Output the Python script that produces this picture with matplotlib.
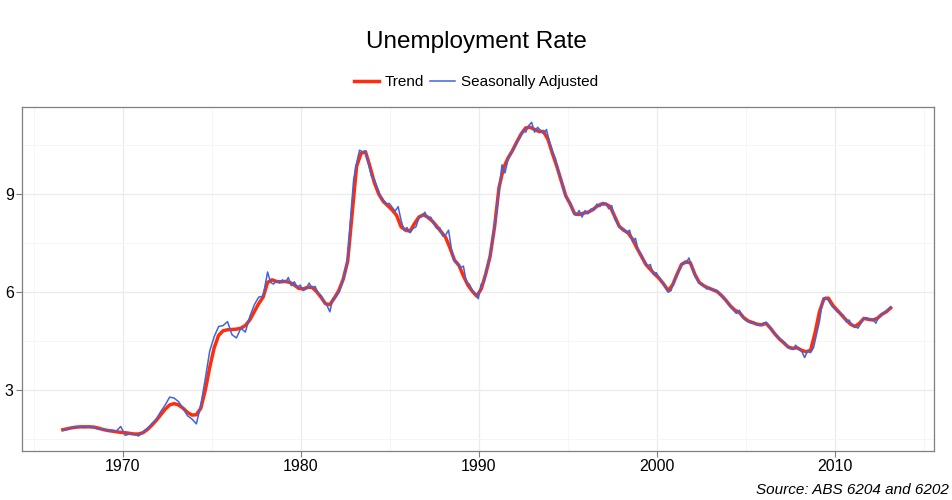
import matplotlib.pyplot as plt
import numpy as np

plt.rcParams['font.family'] = ['Liberation Sans', 'DejaVu Sans']

# unemployment rate, trend: quarterly from Aug 1966
trend_start = 1966.625
trend = [
    1.79, 1.82,
    1.85, 1.87, 1.88, 1.88,   # 1967
    1.88, 1.87, 1.84, 1.80,   # 1968
    1.77, 1.75, 1.73, 1.71,   # 1969
    1.70, 1.68, 1.66, 1.66,   # 1970
    1.70, 1.80, 1.93, 2.08,   # 1971
    2.25, 2.42, 2.55, 2.59,   # 1972
    2.55, 2.45, 2.32, 2.24,   # 1973
    2.25, 2.45, 3.00, 3.70,   # 1974
    4.30, 4.68, 4.82, 4.85,   # 1975
    4.86, 4.87, 4.90, 4.98,   # 1976
    5.15, 5.40, 5.65, 5.85,   # 1977
    6.30, 6.38, 6.33, 6.32,   # 1978
    6.33, 6.30, 6.22, 6.12,   # 1979
    6.10, 6.15, 6.15, 6.02,   # 1980
    5.85, 5.65, 5.62, 5.82,   # 1981
    6.05, 6.40, 6.95, 8.40,   # 1982
    9.85, 10.25, 10.30, 9.85, # 1983
    9.35, 9.00, 8.78, 8.65,   # 1984
    8.52, 8.35, 8.00, 7.90,   # 1985
    7.87, 8.10, 8.30, 8.37,   # 1986
    8.30, 8.18, 8.02, 7.85,   # 1987
    7.68, 7.35, 6.98, 6.82,   # 1988
    6.50, 6.22, 6.03, 5.88,   # 1989
    6.10, 6.55, 7.10, 8.00,   # 1990
    9.20, 9.80, 10.10, 10.33, # 1991
    10.60, 10.85, 11.03, 11.05,  # 1992
    10.98, 10.92, 10.92, 10.68,  # 1993
    10.25, 9.85, 9.40, 8.95,  # 1994
    8.70, 8.40, 8.38, 8.42,   # 1995
    8.45, 8.52, 8.63, 8.70,   # 1996
    8.70, 8.62, 8.32, 8.02,   # 1997
    7.90, 7.82, 7.62, 7.35,   # 1998
    7.10, 6.85, 6.70, 6.55,   # 1999
    6.42, 6.25, 6.05, 6.22,   # 2000
    6.55, 6.85, 6.93, 6.90,   # 2001
    6.55, 6.30, 6.20, 6.13,   # 2002
    6.08, 6.02, 5.90, 5.75,   # 2003
    5.58, 5.45, 5.38, 5.22,   # 2004
    5.12, 5.07, 5.02, 5.00,   # 2005
    5.05, 4.90, 4.72, 4.57,   # 2006
    4.45, 4.32, 4.28, 4.30,   # 2007
    4.22, 4.18, 4.22, 4.75,   # 2008
    5.40, 5.80, 5.82, 5.60,   # 2009
    5.45, 5.30, 5.15, 5.02,   # 2010
    4.95, 5.05, 5.20, 5.17,   # 2011
    5.15, 5.20, 5.32, 5.40,   # 2012
    5.52,                     # 2013
]

# seasonally adjusted: quarterly Aug 1966 - Nov 1977 (ABS 6204)
sa_q_start = 1966.625
sa_quarterly = [
    1.77, 1.80,
    1.86, 1.88, 1.87, 1.86,
    1.89, 1.86, 1.80, 1.82,
    1.76, 1.78, 1.75, 1.89,
    1.62, 1.66, 1.65, 1.60,
    1.72, 1.83, 1.98, 2.12,
    2.35, 2.55, 2.79, 2.76,
    2.65, 2.45, 2.22, 2.12,
    1.97, 2.55, 3.35, 4.20,
    4.64, 4.95, 4.98, 5.10,
    4.70, 4.60, 4.90, 4.78,
    5.25, 5.61, 5.85, 5.88,
]

# seasonally adjusted: every second month from Feb 1978 (ABS 6202)
sa_m_start = 1978.125
sa_monthly = [
    6.62, 6.30, 6.25, 6.35, 6.28, 6.38,   # 1978
    6.30, 6.45, 6.20, 6.32, 6.15, 6.22,   # 1979
    6.05, 6.10, 6.28, 6.12, 6.18, 5.98,   # 1980
    5.90, 5.72, 5.60, 5.40, 5.82, 5.85,   # 1981
    5.98, 6.25, 6.55, 7.00, 8.30, 9.45,   # 1982
    9.95, 10.35, 10.30, 10.32, 9.95, 9.55,  # 1983
    9.45, 9.20, 8.95, 8.82, 8.70, 8.72,   # 1984
    8.60, 8.48, 8.62, 8.20, 7.90, 7.98,   # 1985
    7.82, 7.95, 8.00, 8.28, 8.32, 8.45,   # 1986
    8.25, 8.30, 8.10, 7.95, 7.98, 7.72,   # 1987
    7.75, 7.90, 7.30, 6.95, 6.90, 6.75,   # 1988
    6.80, 6.30, 6.25, 6.05, 5.95, 5.80,   # 1989
    6.25, 6.30, 6.80, 7.10, 7.75, 8.30,   # 1990
    9.10, 9.90, 9.65, 10.05, 10.25, 10.40,  # 1991
    10.60, 10.72, 10.95, 10.90, 11.10, 11.20,  # 1992
    10.90, 11.05, 10.95, 10.85, 10.98, 10.60,  # 1993
    10.30, 10.10, 9.70, 9.45, 9.05, 8.85,  # 1994
    8.75, 8.45, 8.35, 8.50, 8.30, 8.50,   # 1995
    8.40, 8.55, 8.52, 8.70, 8.62, 8.75,   # 1996
    8.72, 8.55, 8.65, 8.25, 8.10, 7.95,   # 1997
    7.95, 7.80, 7.90, 7.55, 7.65, 7.25,   # 1998
    7.15, 6.95, 6.80, 6.85, 6.55, 6.60,   # 1999
    6.45, 6.30, 6.20, 6.00, 6.05, 6.35,   # 2000
    6.50, 6.75, 6.90, 6.88, 7.05, 6.80,   # 2001
    6.50, 6.35, 6.25, 6.20, 6.10, 6.15,   # 2002
    6.05, 6.08, 6.00, 5.90, 5.80, 5.70,   # 2003
    5.55, 5.45, 5.35, 5.45, 5.25, 5.15,   # 2004
    5.10, 5.05, 5.08, 5.00, 4.98, 5.05,   # 2005
    5.08, 4.95, 4.85, 4.72, 4.62, 4.55,   # 2006
    4.48, 4.35, 4.28, 4.25, 4.38, 4.25,   # 2007
    4.20, 4.00, 4.20, 4.15, 4.30, 4.70,   # 2008
    5.10, 5.70, 5.85, 5.75, 5.60, 5.50,   # 2009
    5.40, 5.35, 5.30, 5.10, 5.15, 4.98,   # 2010
    4.95, 4.90, 5.05, 5.20, 5.22, 5.15,   # 2011
    5.18, 5.05, 5.25, 5.30, 5.40, 5.45,   # 2012
    5.55,                                 # 2013
]

trend_t = trend_start + 0.25 * np.arange(len(trend))
sa_t = np.concatenate([
    sa_q_start + 0.25 * np.arange(len(sa_quarterly)),
    sa_m_start + (2 / 12) * np.arange(len(sa_monthly)),
])
sa = sa_quarterly + sa_monthly

fig = plt.figure(figsize=(9.52, 5.0), dpi=100)
ax = fig.add_axes([22 / 952, 49 / 500, 912 / 952, 344 / 500])

ax.plot(trend_t, trend, color='#FF2D0A', lw=2.5, label='Trend', zorder=3)
ax.plot(sa_t, sa, color='#4063E0', lw=1.1, label='Seasonally Adjusted', zorder=4)

ax.set_xlim(1964.33, 2015.56)
ax.set_ylim(1.14, 11.67)
ax.set_xticks([1970, 1980, 1990, 2000, 2010])
ax.set_yticks([3, 6, 9])
ax.set_xticks([1965, 1975, 1985, 1995, 2005, 2015], minor=True)
ax.set_yticks([1.5, 4.5, 7.5, 10.5], minor=True)
ax.grid(which='major', color='#EBEBEB', lw=0.9)
ax.grid(which='minor', color='#F5F5F5', lw=0.7)
ax.set_axisbelow(True)
ax.tick_params(which='major', direction='out', length=4, width=0.8,
               color='#7F7F7F', labelsize=11.5, pad=2)
ax.tick_params(which='minor', length=0)
for s in ax.spines.values():
    s.set_color('#7F7F7F')
    s.set_linewidth(0.9)

fig.text(0.5, 1 - 42 / 500, 'Unemployment Rate', ha='center', va='center',
         fontsize=17.5)
fig.legend(loc='center', bbox_to_anchor=(0.5, 1 - 82 / 500), ncol=2,
           frameon=False, fontsize=11, handlelength=1.6, handletextpad=0.4,
           columnspacing=0.4)
fig.text(949 / 952, 1 - 490 / 500, 'Source: ABS 6204 and 6202', ha='right',
         va='center', fontsize=11, style='italic')

fig.savefig('out.png', dpi=100)
